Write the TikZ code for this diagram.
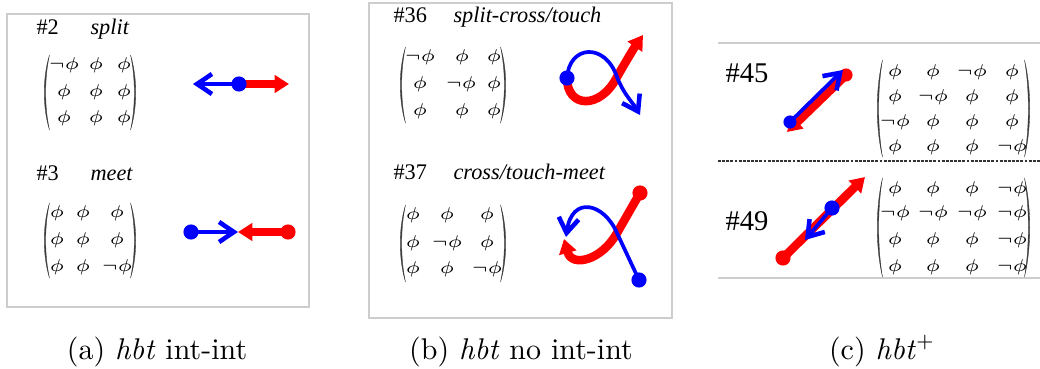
\documentclass[tikz,border=0pt]{standalone}
\usepackage{fontspec}
\usepackage{graphicx}
\usetikzlibrary{arrows.meta}
\newfontfamily\tms{Liberation Serif}
\definecolor{boxgray}{RGB}{205,205,205}
\definecolor{parcol}{RGB}{60,60,60}
\newcommand\mphi{\scalebox{1.12}[1]{$\phi$}}
\newcommand\mnphi{\scalebox{1.12}[1]{$\neg\phi$}}
\newcommand\mylpar[3]{\filldraw[parcol,line width=0.12pt] ({#1+6.5},#2) .. controls ({#1-0.5},{#2+0.3*(#3-#2)}) and ({#1-0.5},{#3-0.3*(#3-#2)}) .. ({#1+6.5},#3) .. controls ({#1+1.4},{#3-0.3*(#3-#2)}) and ({#1+1.4},{#2+0.3*(#3-#2)}) .. cycle;}
\newcommand\myrpar[3]{\filldraw[parcol,line width=0.12pt] ({#1-6.5},#2) .. controls ({#1+0.5},{#2+0.3*(#3-#2)}) and ({#1+0.5},{#3-0.3*(#3-#2)}) .. ({#1-6.5},#3) .. controls ({#1-1.4},{#3-0.3*(#3-#2)}) and ({#1-1.4},{#2+0.3*(#3-#2)}) .. cycle;}
\tikzset{
 lab/.style={inner sep=0, anchor=base west, font=\tms\fontsize{7.8}{9}\selectfont},
 labit/.style={inner sep=0, anchor=base west, font=\tms\itshape\fontsize{7.8}{9}\selectfont},
 biglab/.style={inner sep=0, anchor=base west, font=\tms\fontsize{10}{11}\selectfont},
 ent/.style={inner sep=0, font=\fontsize{6.4}{7.5}\selectfont},
 redarr/.style={red, line width=3pt, -{Triangle[length=5pt,width=6pt]}},
 bluearr/.style={blue, line width=1.3pt, -{Straight Barb[length=5.2pt,width=7pt,line width=1.6pt]}},
 rdot/.style={circle, fill=red, inner sep=0, minimum size=5.3pt},
 bdot/.style={circle, fill=blue, inner sep=0, minimum size=5.3pt},
 boxframe/.style={draw=boxgray, line width=0.5pt},
 captext/.style={inner sep=0, anchor=base, font=\fontsize{10.5}{12}\selectfont},
}
\begin{document}
\begin{tikzpicture}[x=0.35pt, y=-0.35pt]
\useasboundingbox (0,0) rectangle (1040,369);
% frames
\draw[boxframe] (7,14) rectangle (309,307);
\draw[boxframe] (369,3) rectangle (672,318);
\draw[boxgray, line width=0.5pt] (718,43) -- (1040,43);
\draw[boxgray, line width=0.5pt] (718,278) -- (1040,278);
\draw[black!80, line width=0.9pt, dash pattern=on 1pt off 0.45pt] (718,161) -- (1040,161);

% captions
\node[captext] (capa) at (157,359) {(a) \textit{hbt} int-int};
\node[captext] (capb) at (521,359) {(b) \textit{hbt} no int-int};
\node[captext] (capc) at (882,359) {(c) \textit{hbt}$^+$};

% labels
\node[lab] (l2) at (36,34) {\#2};
\node[labit] (l2t) at (90,34) {split};
\node[lab] (l3) at (36,181) {\#3};
\node[labit] (l3t) at (90,181) {meet};
\node[lab] (l36) at (393,23) {\#36};
\node[labit] (l36t) at (453,23) {split-cross/touch};
\node[lab] (l37) at (393,179) {\#37};
\node[labit] (l37t) at (453,179) {cross/touch-meet};
\node[biglab] (l45) at (725,82) {\#45};
\node[biglab] (l49) at (725,230) {\#49};

% matrix a1
\mylpar{43}{55}{130}\myrpar{137}{55}{130}
\foreach \x/\y/\t [count=\i] in {64/65/\mnphi,96/65/\mphi,124/65/\mphi,
  64/92/\mphi,96/92/\mphi,124/92/\mphi,
  64/118/\mphi,96/118/\mphi,124/118/\mphi}
  \node[ent] (ma\i) at (\x,\y) {\t};
% matrix a2
\mylpar{43}{203}{278}\myrpar{137}{203}{278}
\foreach \x/\y/\t [count=\i] in {57/213/\mphi,83/213/\mphi,117/213/\mphi,
  57/240/\mphi,83/240/\mphi,117/240/\mphi,
  57/267/\mphi,83/267/\mphi,117/267/\mnphi}
  \node[ent] (mb\i) at (\x,\y) {\t};
% matrix b1
\mylpar{399}{47}{123}\myrpar{507}{47}{123}
\foreach \x/\y/\t [count=\i] in {420/57/\mnphi,462/57/\mphi,494/57/\mphi,
  420/84/\mphi,461/84/\mnphi,494/84/\mphi,
  420/111/\mphi,462/111/\mphi,494/111/\mphi}
  \node[ent] (mc\i) at (\x,\y) {\t};
% matrix b2
\mylpar{399}{205}{282}\myrpar{507}{205}{282}
\foreach \x/\y/\t [count=\i] in {413/215/\mphi,447/215/\mphi,487/215/\mphi,
  413/243/\mphi,447/243/\mnphi,487/243/\mphi,
  413/269/\mphi,447/269/\mphi,487/269/\mnphi}
  \node[ent] (md\i) at (\x,\y) {\t};
% matrix c1
\mylpar{876}{60}{157}\myrpar{1031}{60}{157}
\foreach \x/\y/\t [count=\i] in {895/72/\mphi,933/72/\mphi,972/72/\mnphi,1012/72/\mphi,
  895/97/\mphi,933/97/\mnphi,972/97/\mphi,1012/97/\mphi,
  895/122/\mnphi,933/122/\mphi,972/122/\mphi,1012/122/\mphi,
  895/147/\mphi,933/147/\mphi,972/147/\mphi,1012/147/\mnphi}
  \node[ent] (me\i) at (\x,\y) {\t};
% matrix c2
\mylpar{876}{178}{277}\myrpar{1031}{178}{277}
\foreach \x/\y/\t [count=\i] in {895/189/\mphi,933/189/\mphi,972/189/\mphi,1012/189/\mnphi,
  895/213/\mnphi,933/213/\mnphi,972/213/\mnphi,1012/213/\mnphi,
  895/240/\mphi,933/240/\mphi,972/240/\mphi,1012/240/\mnphi,
  895/267/\mphi,933/267/\mphi,972/267/\mphi,1012/267/\mnphi}
  \node[ent] (mf\i) at (\x,\y) {\t};

% ---- a1 split
\coordinate (a1b) at (239,84);
\coordinate (a1bt) at (193,84);
\coordinate (a1rt) at (289,84);
\draw[redarr] (a1b) -- (a1rt);
\draw[bluearr] (a1b) -- (a1bt);
\node[bdot] (a1bd) at (a1b) {};
% ---- a2 meet
\coordinate (a2b) at (191,232);
\coordinate (a2r) at (288,232);
\coordinate (a2t) at (238,232);
\draw[redarr] (a2r) -- (a2t);
\node[rdot] (a2rd) at (a2r) {};
\draw[bluearr] (a2b) -- (a2t);
\node[bdot] (a2bd) at (a2b) {};
% ---- b1
\coordinate (b1b) at (567,78);
\coordinate (b1x) at (617,77);
\coordinate (b1rt) at (643,35);
\coordinate (b1bt) at (640,115);
\draw[redarr] (b1b) .. controls (567,108) and (600,110) .. (b1x) .. controls (625,63) and (634,48) .. (b1rt);
\draw[bluearr] (b1b) .. controls (569,45) and (605,42) .. (b1x) .. controls (624,95) and (634,104) .. (b1bt);
\node[bdot] (b1bd) at (b1b) {};
% ---- b2
\coordinate (b2r) at (640,193);
\coordinate (b2b) at (639,280);
\coordinate (b2x) at (617,233);
\coordinate (b2rt) at (564,239);
\coordinate (b2bt) at (566,237);
\draw[redarr] (b2r) -- (b2x) .. controls (602,260) and (572,268) .. (b2rt);
\node[rdot] (b2rd) at (b2r) {};
\draw[bluearr] (b2b) -- (b2x) .. controls (604,203) and (572,195) .. (b2bt);
\node[bdot] (b2bd) at (b2b) {};
% ---- c1
\coordinate (c1r) at (846,75);
\coordinate (c1rt) at (787,132);
\coordinate (c1b) at (790,122);
\coordinate (c1bt) at (843,70);
\draw[redarr] (c1r) -- (c1rt);
\node[rdot, minimum size=4.6pt] (c1rd) at (c1r) {};
\draw[bluearr] (c1b) -- (c1bt);
\node[bdot, minimum size=4.6pt] (c1bd) at (c1b) {};
% ---- c2
\coordinate (c2r) at (783,258);
\coordinate (c2rt) at (865,177);
\coordinate (c2b) at (832,208);
\coordinate (c2bt) at (805,240);
\draw[redarr] (c2r) -- (c2rt);
\node[rdot] (c2rd) at (c2r) {};
\draw[bluearr] (c2b) -- (c2bt);
\node[bdot] (c2bd) at (c2b) {};
\end{tikzpicture}
\end{document}
